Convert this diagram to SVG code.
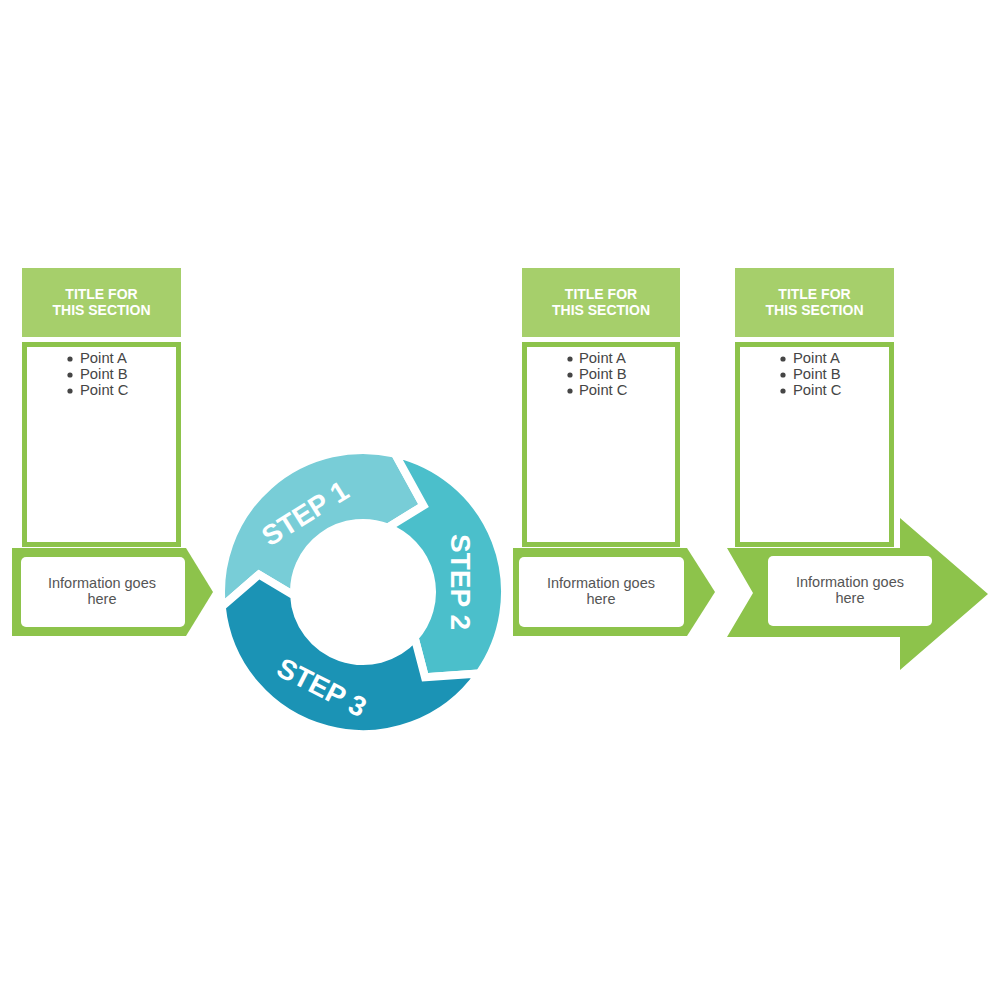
<svg xmlns="http://www.w3.org/2000/svg" width="1000" height="1000" viewBox="0 0 1000 1000">
<style>
.title{fill:#a6cf6b}
.tt{font-family:"Liberation Sans",Arial,sans-serif;font-weight:bold;font-size:14px;fill:#fff;text-anchor:middle}
.box{fill:#fff;stroke:#8dc34b;stroke-width:5}
.pt{font-family:"Liberation Sans",Arial,sans-serif;font-size:14.8px;fill:#454545}
.bul{fill:#454545}
.arr{fill:#8dc34b}
.info{fill:#fff}
.it{font-family:"Liberation Sans",Arial,sans-serif;font-size:14.5px;fill:#555;text-anchor:middle}
.seg{stroke:#fff;stroke-width:8;stroke-linejoin:miter}
.st{font-family:"Liberation Sans",Arial,sans-serif;font-weight:bold;font-size:28px;fill:#fff;text-anchor:middle}
</style>
<g id="section1">
<rect class="title" x="22" y="268" width="159" height="69"/>
<text class="tt" x="101.5" y="299">TITLE FOR</text>
<text class="tt" x="101.5" y="315">THIS SECTION</text>
<rect class="box" x="24.5" y="344.5" width="154" height="200"/>
<circle class="bul" cx="70" cy="359" r="2.6"/>
<circle class="bul" cx="70" cy="375" r="2.6"/>
<circle class="bul" cx="70" cy="391" r="2.6"/>
<text class="pt" x="80" y="363">Point A</text>
<text class="pt" x="80" y="379">Point B</text>
<text class="pt" x="80" y="395">Point C</text>
<polygon class="arr" points="12,548 186,548 213,592 186,636 12,636"/>
<rect class="info" x="21" y="557" width="164" height="70" rx="5"/>
<text class="it" x="102" y="588">Information goes</text>
<text class="it" x="102" y="604">here</text>
</g>
<g id="cycle">
<g id="step1">
<path class="seg" fill="#78cdd7" d="M 221.78 606.84 A 142 142 0 0 1 394.94 453.64 L 423.51 505.58 L 387.73 527.58 A 69 69 0 0 0 294.09 595.61 L 258.95 574.59 Z"/>
<text class="st" transform="translate(305,513) rotate(-32)" y="10">STEP 1</text>
</g>
<g id="step2">
<path class="seg" fill="#4bbfcb" d="M 394.94 453.64 A 142 142 0 0 1 479.32 673.45 L 425.01 677.35 L 414.68 637.72 A 69 69 0 0 0 387.73 527.58 L 423.51 505.58 Z"/>
<text class="st" transform="translate(461,582) rotate(90)" y="10">STEP 2</text>
</g>
<g id="step3">
<path class="seg" fill="#1b93b5" d="M 479.32 673.45 A 142 142 0 0 1 221.78 606.84 L 258.95 574.59 L 294.09 595.61 A 69 69 0 0 0 414.68 637.72 L 425.01 677.35 Z"/>
<text class="st" transform="translate(322,687) rotate(27)" y="10">STEP 3</text>
</g>
</g>
<g id="section2">
<rect class="title" x="522" y="268" width="158" height="69"/>
<text class="tt" x="601" y="299">TITLE FOR</text>
<text class="tt" x="601" y="315">THIS SECTION</text>
<rect class="box" x="524.5" y="344.5" width="153" height="200"/>
<circle class="bul" cx="570" cy="359" r="2.6"/>
<circle class="bul" cx="570" cy="375" r="2.6"/>
<circle class="bul" cx="570" cy="391" r="2.6"/>
<text class="pt" x="579" y="363">Point A</text>
<text class="pt" x="579" y="379">Point B</text>
<text class="pt" x="579" y="395">Point C</text>
<polygon class="arr" points="513,548 687,548 715,592 687,636 513,636"/>
<rect class="info" x="519" y="557" width="165" height="70" rx="5"/>
<text class="it" x="601" y="588">Information goes</text>
<text class="it" x="601" y="604">here</text>
</g>
<g id="section3">
<polygon class="arr" points="727,548 900,548 900,518 988,594 900,670 900,637 727,637 753,593"/>
<rect class="title" x="735" y="268" width="159" height="69"/>
<text class="tt" x="814.5" y="299">TITLE FOR</text>
<text class="tt" x="814.5" y="315">THIS SECTION</text>
<rect class="box" x="737.5" y="344.5" width="154" height="200"/>
<circle class="bul" cx="783" cy="359" r="2.6"/>
<circle class="bul" cx="783" cy="375" r="2.6"/>
<circle class="bul" cx="783" cy="391" r="2.6"/>
<text class="pt" x="793" y="363">Point A</text>
<text class="pt" x="793" y="379">Point B</text>
<text class="pt" x="793" y="395">Point C</text>
<rect class="info" x="768" y="556" width="164" height="70" rx="5"/>
<text class="it" x="850" y="587">Information goes</text>
<text class="it" x="850" y="603">here</text>
</g>
</svg>
